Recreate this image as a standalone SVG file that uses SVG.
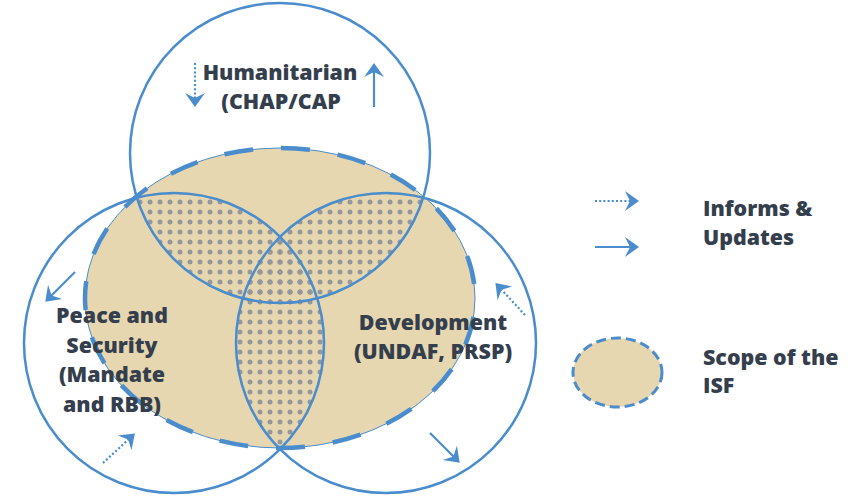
<svg xmlns="http://www.w3.org/2000/svg" width="850" height="496" viewBox="0 0 850 496">
<style>
.t{font-family:"Open Sans","Liberation Sans",sans-serif;font-weight:800;font-size:21.4px;fill:#343e4c}
.m{text-anchor:middle}
.c{fill:none;stroke:#4a8ccc;stroke-width:2.5}
.a{fill:none;stroke:#4a8ccc;stroke-width:2.2}
.d{stroke-dasharray:2 2.2}
.scope{fill:#e6d7b1;stroke:#4a8ccc}
</style>
<defs>
<marker id="h" markerUnits="userSpaceOnUse" markerWidth="14" markerHeight="20" refX="8" refY="10" orient="auto" overflow="visible">
<path d="M14,10 L0,0 L5,10 L0,20 Z" fill="#4a8ccc"/>
</marker>
<pattern id="dots" patternUnits="userSpaceOnUse" x="145" y="197" width="10" height="10">
<circle cx="5" cy="5" r="2.5" fill="#96979a"/>
</pattern>
<clipPath id="cT"><circle cx="280" cy="153" r="150"/></clipPath>
<clipPath id="cL"><circle cx="174" cy="343" r="150"/></clipPath>
<clipPath id="cR"><circle cx="386" cy="343" r="150"/></clipPath>
<clipPath id="cE"><ellipse cx="280" cy="298" rx="195" ry="150"/></clipPath>
</defs>

<g id="scope">
<ellipse cx="280" cy="298" rx="195" ry="150" class="scope" stroke="none"/>
<g clip-path="url(#cE)">
<g clip-path="url(#cT)"><rect x="0" y="0" width="850" height="496" fill="url(#dots)" clip-path="url(#cL)"/></g>
<g clip-path="url(#cT)"><rect x="0" y="0" width="850" height="496" fill="url(#dots)" clip-path="url(#cR)"/></g>
<g clip-path="url(#cL)"><rect x="0" y="0" width="850" height="496" fill="url(#dots)" clip-path="url(#cR)"/></g>
</g>
<ellipse cx="280" cy="298" rx="195" ry="150" fill="none" stroke="#4a8ccc" stroke-width="4.5" stroke-dasharray="29 28" stroke-dashoffset="38"/>
</g>

<g id="humanitarian">
<circle cx="280" cy="153" r="150" class="c"/>
<text class="t m" x="280" y="80">Humanitarian</text>
<text class="t m" x="281" y="109">(CHAP/CAP</text>
</g>
<g id="peace">
<circle cx="174" cy="343" r="150" class="c"/>
<text class="t m" x="112" y="323">Peace and</text>
<text class="t m" x="112" y="352.5">Security</text>
<text class="t m" x="112" y="382">(Mandate</text>
<text class="t m" x="112" y="411.5">and RBB)</text>
</g>
<g id="development">
<circle cx="386" cy="343" r="150" class="c"/>
<text class="t m" x="433" y="330">Development</text>
<text class="t m" x="433" y="359">(UNDAF, PRSP)</text>
</g>

<g id="connectors">
<line class="a d" x1="195" y1="63" x2="195" y2="101" marker-end="url(#h)"/>
<line class="a" x1="374" y1="107" x2="374" y2="69" marker-end="url(#h)"/>
<line class="a" x1="75" y1="272" x2="49.5" y2="297.5" marker-end="url(#h)"/>
<line class="a d" x1="103" y1="463" x2="130.5" y2="437.5" marker-end="url(#h)"/>
<line class="a d" x1="525" y1="315" x2="499.5" y2="287.5" marker-end="url(#h)"/>
<line class="a" x1="430" y1="433" x2="455.5" y2="458.5" marker-end="url(#h)"/>
</g>

<g id="legend">
<line class="a d" x1="595" y1="201" x2="633" y2="201" marker-end="url(#h)"/>
<line class="a" x1="595" y1="247" x2="633" y2="247" marker-end="url(#h)"/>
<text class="t" x="703" y="216">Informs &amp;</text>
<text class="t" x="703" y="245">Updates</text>
<ellipse cx="617.5" cy="372.5" rx="44.5" ry="34.5" fill="#e6d7b1" stroke="#4a8ccc" stroke-width="3" stroke-dasharray="10 5"/>
<text class="t" x="703" y="365">Scope of the</text>
<text class="t" x="703" y="393">ISF</text>
</g>
</svg>
